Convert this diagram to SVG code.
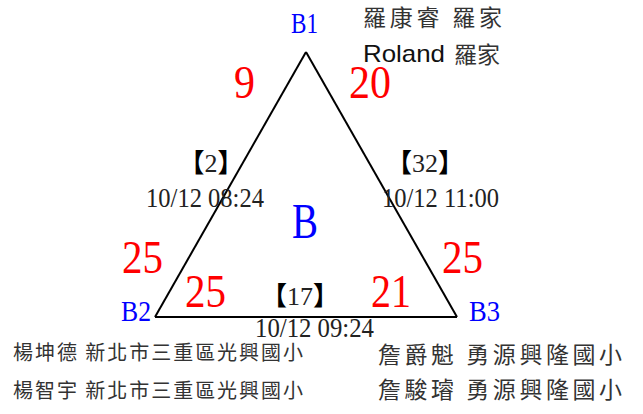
<svg xmlns="http://www.w3.org/2000/svg" width="643" height="414" viewBox="0 0 643 414">
<style>
.node{font-family:"Liberation Serif","Noto Sans CJK TC",serif;fill:#0000ff;font-size:30px}
.num{font-family:"Liberation Serif",serif;fill:#ff0000;font-size:46px}
.lbl{font-family:"Liberation Serif","Noto Sans CJK TC",serif;fill:#222;font-size:28px}
.br{font-family:"Liberation Serif","Noto Sans CJK TC",serif;fill:#222;font-size:26px;text-anchor:middle}
.b{font-family:"Noto Sans CJK TC",sans-serif;font-weight:bold;fill:#000}
.cjk{font-family:"Noto Sans CJK TC",sans-serif;fill:#333}
.edge{stroke:#000;stroke-width:2;fill:none}
</style>
<rect width="643" height="414" fill="#fff"/>
<g id="connectors">
<line class="edge" x1="306" y1="52" x2="155" y2="317"/>
<line class="edge" x1="306" y1="52" x2="457" y2="317"/>
<line class="edge" x1="155" y1="317" x2="457" y2="317"/>
</g>
<g id="B1">
<text class="node" x="291" y="33" textLength="27" lengthAdjust="spacingAndGlyphs">B1</text>
<text class="cjk" x="363" y="26" font-size="23" textLength="139">羅康睿 羅家</text>
<text x="363" y="62" font-family="Liberation Sans, Arial, sans-serif" font-size="24" fill="#111" textLength="82" lengthAdjust="spacingAndGlyphs">Roland</text>
<text class="cjk" x="454" y="63" font-size="23">羅家</text>
</g>
<g id="B2">
<text class="node" x="121" y="321" textLength="30" lengthAdjust="spacingAndGlyphs">B2</text>
<text class="cjk" x="13" y="360" font-size="20" textLength="290">楊坤德 新北市三重區光興國小</text>
<text class="cjk" x="13" y="398" font-size="20" textLength="290">楊智宇 新北市三重區光興國小</text>
</g>
<g id="B3">
<text class="node" x="469" y="321" textLength="31" lengthAdjust="spacingAndGlyphs">B3</text>
<text class="cjk" x="378" y="363" font-size="23" textLength="244">詹爵魁 勇源興隆國小</text>
<text class="cjk" x="378" y="398" font-size="23" textLength="244">詹駿璿 勇源興隆國小</text>
</g>
<g id="center">
<text class="node" x="292" y="238" style="font-size:50px" textLength="26" lengthAdjust="spacingAndGlyphs">B</text>
</g>
<g id="scores">
<text class="num" x="234" y="98" textLength="21" lengthAdjust="spacingAndGlyphs">9</text>
<text class="num" x="349" y="98" textLength="42" lengthAdjust="spacingAndGlyphs">20</text>
<text class="num" x="122" y="273" textLength="41" lengthAdjust="spacingAndGlyphs">25</text>
<text class="num" x="442" y="273" textLength="41" lengthAdjust="spacingAndGlyphs">25</text>
<text class="num" x="185" y="307" textLength="41" lengthAdjust="spacingAndGlyphs">25</text>
<text class="num" x="371" y="307" textLength="40" lengthAdjust="spacingAndGlyphs">21</text>
</g>
<g id="matches">
<text class="br" x="211" y="172"><tspan class="b">【</tspan>2<tspan class="b">】</tspan></text>
<text class="lbl" x="146" y="207" textLength="118" lengthAdjust="spacingAndGlyphs">10/12 08:24</text>
<text class="br" x="425" y="172"><tspan class="b">【</tspan>32<tspan class="b">】</tspan></text>
<text class="lbl" x="382" y="207" textLength="117" lengthAdjust="spacingAndGlyphs">10/12 11:00</text>
<text class="br" x="300" y="305"><tspan class="b">【</tspan>17<tspan class="b">】</tspan></text>
<text class="lbl" x="255" y="337" textLength="119" lengthAdjust="spacingAndGlyphs">10/12 09:24</text>
</g>
</svg>
